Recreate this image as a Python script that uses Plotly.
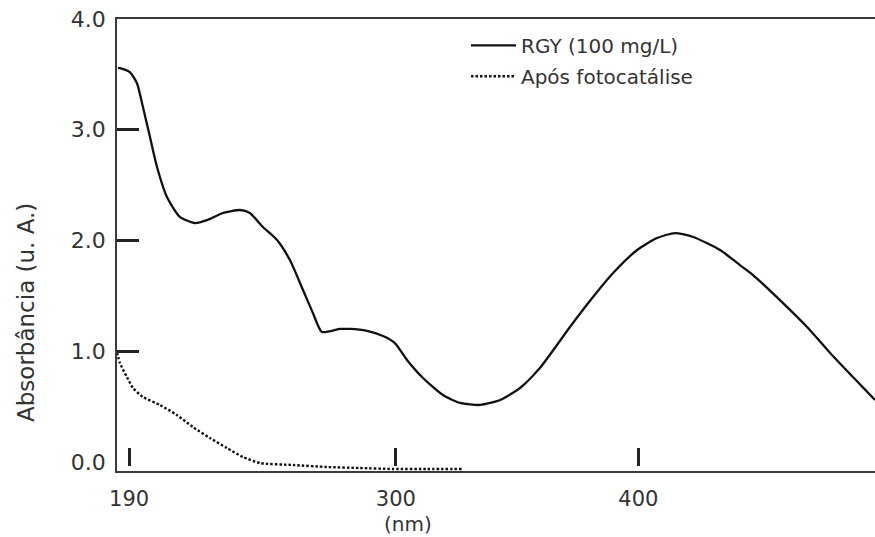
import plotly.graph_objects as go

# RGY (100 mg/L) spectrum
rgy_nm = [185.4, 186.2, 190.3, 193.2, 195.7, 198.6, 201.5, 205.6, 211.0, 217.2,
          222.1, 228.7, 235.7, 239.8, 245.2, 251.0, 256.3, 261.7, 265.8, 269.5,
          277.0, 281.1, 288.1, 294.7, 299.6, 304.6, 311.2, 319.4, 326.5, 334.7,
          343.0, 351.2, 359.4, 371.8, 381.3, 389.6, 399.5, 407.7, 415.1, 422.6,
          433.7, 441.9, 447.3, 458.4, 469.6, 479.1, 488.5, 497.6]
rgy_abs = [3.557, 3.557, 3.521, 3.422, 3.205, 2.934, 2.664, 2.393, 2.212, 2.158,
           2.185, 2.249, 2.276, 2.249, 2.122, 2.005, 1.824, 1.554, 1.346, 1.175,
           1.202, 1.202, 1.184, 1.138, 1.075, 0.922, 0.759, 0.606, 0.534, 0.516,
           0.561, 0.669, 0.850, 1.220, 1.490, 1.707, 1.915, 2.023, 2.068, 2.032,
           1.915, 1.779, 1.689, 1.463, 1.220, 0.985, 0.768, 0.561]

# After photocatalysis
pos_nm = [185.0, 186.2, 189.1, 191.6, 195.7, 202.7, 209.7, 216.3, 223.3, 230.3,
          237.0, 244.0, 257.6, 271.6, 285.2, 298.8, 312.8, 327.7]
pos_abs = [0.99, 0.895, 0.768, 0.669, 0.588, 0.516, 0.425, 0.317, 0.218, 0.128,
           0.046, -0.008, -0.026, -0.044, -0.053, -0.062, -0.062, -0.062]

x_ticks = [190, 300, 400]
y_ticks = [0, 1, 2, 3, 4]
y_tick_text = ["0.0", "1.0", "2.0", "3.0", "4.0"]
y_inner_ticks = [1, 2, 3]

x_range = [185.0, 497.6]
y_range = [-0.08, 4.0]

FONT = "DejaVu Sans"
AX = "#3a3a3a"
TXT = "#333333"

fig = go.Figure()
fig.add_trace(go.Scatter(x=rgy_nm, y=rgy_abs, mode="lines", name="RGY (100 mg/L)",
                         line=dict(color="#111111", width=2.3, shape="spline", smoothing=0.6),
                         legendgroup="a"))
fig.add_trace(go.Scatter(x=pos_nm, y=pos_abs, mode="lines", name="Após fotocatálise",
                         line=dict(color="#111111", width=2.4, dash="2.5px,2px", shape="spline", smoothing=0.6),
                         legendgroup="b"))
# invisible trace to carry the auxiliary tick axes
fig.add_trace(go.Scatter(x=[x_range[0]], y=[y_range[0]], xaxis="x2", yaxis="y2",
                         mode="markers", marker=dict(opacity=0), showlegend=False, hoverinfo="skip"))

fig.update_layout(
    width=875, height=537,
    margin=dict(l=117, r=0, t=19, b=66, autoexpand=False),
    paper_bgcolor="white", plot_bgcolor="white",
    font=dict(family=FONT, color=TXT, size=20),
    showlegend=True,
    legend=dict(x=0.4604, y=0.985, xanchor="left", yanchor="top", itemwidth=45,
                font=dict(family=FONT, size=20, color=TXT),
                bgcolor="rgba(0,0,0,0)", tracegroupgap=2, traceorder="grouped"),
    xaxis=dict(range=x_range, tickvals=x_ticks, ticks="", showline=True, linecolor=AX,
               linewidth=1.5, mirror=True, showgrid=False, zeroline=False,
               tickfont=dict(size=21), ticklabelstandoff=8),
    yaxis=dict(range=y_range, tickvals=y_ticks, ticktext=y_tick_text, ticks="",
               showline=True, linecolor=AX, linewidth=1.5, mirror=False, showgrid=False,
               zeroline=False, tickfont=dict(size=22), ticklabelstandoff=5),
    xaxis2=dict(range=x_range, overlaying="x", anchor="free", position=0.011,
                tickvals=x_ticks, ticks="inside", ticklen=18, tickwidth=2.5, tickcolor="#222222",
                showticklabels=False, showline=False, showgrid=False, zeroline=False),
    yaxis2=dict(range=y_range, overlaying="y", anchor="x", tickvals=y_inner_ticks,
                ticks="inside", ticklen=22, tickwidth=2.5, tickcolor="#222222",
                showticklabels=False, showline=False, showgrid=False, zeroline=False),
    annotations=[
        dict(text="(nm)", x=305, xref="x", y=(471 - 524) / 452, yref="paper", showarrow=False,
             font=dict(size=20, family=FONT, color=TXT), xanchor="center", yanchor="middle"),
        dict(text="Absorbância (u. A.)", x=(26 - 117) / 758, xref="paper",
             y=(471 - 313) / 452, yref="paper", showarrow=False, textangle=-90,
             xanchor="center", yanchor="middle",
             font=dict(size=23, family=FONT, color=TXT)),
    ],
)

fig.write_html("out.html", config={"displayModeBar": False},
               post_script="document.body.style.margin='0';document.body.style.overflow='hidden';")
